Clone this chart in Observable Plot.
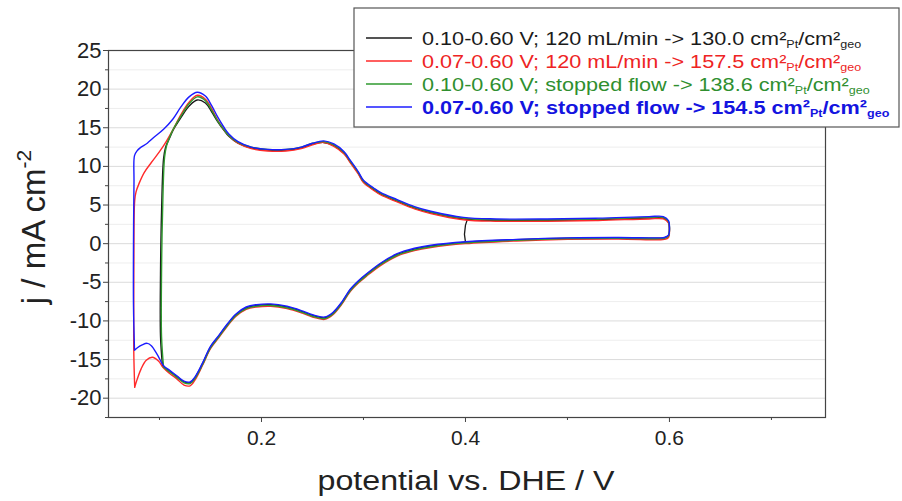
<!DOCTYPE html>
<html><head><meta charset="utf-8">
<script src="https://cdn.jsdelivr.net/npm/d3@7"></script>
<script src="https://cdn.jsdelivr.net/npm/@observablehq/plot@0.6"></script>
<style>body{margin:0;background:#fff;} #chart{width:902px;height:501px;}</style>
</head><body><div id="chart"></div>
<script>
// potential (V vs DHE) and current density (mA cm^-2), one closed loop per series
const blackV = [0.103,0.101,0.101,0.102,0.104,0.106,0.110,0.113,0.121,0.129,0.137,0.145,0.151,0.157,0.163,0.168,0.177,0.19,0.206,0.224,0.239,0.25,0.261,0.271,0.281,0.287,0.295,0.30,0.31,0.317,0.333,0.35,0.366,0.398,0.43,0.48,0.53,0.58,0.594,0.599,0.600,0.599,0.595,
  0.59,0.55,0.5,0.45,0.40,0.366,0.35,0.333,0.317,0.303,0.295,0.287,0.279,0.27,0.262,0.25,0.24,0.225,0.209,0.195,0.185,0.175,0.167,0.158,0.15,0.142,0.135,0.13,0.124,0.117,0.11,0.103];
const blackJ = [-15.9,-12,-4,4,11.0,12.5,13.7,14.6,16.3,17.8,18.6,18.2,17.1,15.8,14.7,13.9,13.0,12.4,12.1,12.1,12.4,12.9,13.1,12.7,11.7,10.6,9.1,8.0,7.0,6.4,5.5,4.6,4.0,3.2,3.0,3.0,3.1,3.3,3.3,2.8,1.8,1.0,0.75,
  0.7,0.75,0.7,0.5,0.2,-0.3,-0.7,-1.4,-2.6,-4.0,-4.9,-6.0,-7.6,-9.0,-9.6,-9.3,-8.8,-8.2,-7.9,-8.0,-8.3,-9.2,-10.4,-12.0,-13.4,-15.6,-17.3,-18.0,-17.9,-17.2,-16.5,-15.9];
const blackStepV = [0.400,0.399,0.400,0.402];
const blackStepJ = [0.2,1.2,2.4,3.2];

const redV = [0.0757,0.0748,0.0748,0.075,0.0757,0.077,0.080,0.085,0.092,0.100,0.107,0.113,0.121,0.129,0.137,0.145,0.151,0.157,0.163,0.168,0.177,0.19,0.206,0.224,0.239,0.25,0.261,0.271,0.281,0.287,0.295,0.30,0.31,0.317,0.333,0.35,0.366,0.398,0.43,0.48,0.53,0.58,0.594,0.599,0.600,0.599,0.595,
  0.59,0.55,0.5,0.45,0.40,0.366,0.35,0.333,0.317,0.303,0.295,0.287,0.279,0.27,0.262,0.25,0.24,0.225,0.209,0.195,0.185,0.175,0.167,0.158,0.15,0.142,0.135,0.13,0.124,0.117,0.11,0.104,0.099,0.093,0.087,0.082,0.078,0.0757];
const redJ = [-18.6,-14,-5,2,5.6,6.7,7.8,9.2,10.5,11.9,13.3,14.7,16.7,18.3,19.2,18.7,17.5,16.0,14.8,14.0,13.0,12.3,12.0,12.0,12.3,12.8,13.1,12.6,11.6,10.5,9.0,7.9,6.9,6.3,5.4,4.5,3.9,3.1,2.9,2.9,3.0,3.2,3.2,2.7,1.7,0.8,0.55,
  0.5,0.6,0.55,0.35,0.0,-0.5,-0.9,-1.6,-2.8,-4.2,-5.1,-6.2,-7.8,-9.2,-9.8,-9.5,-9.0,-8.4,-8.1,-8.2,-8.5,-9.4,-10.6,-12.2,-13.6,-15.8,-17.6,-18.4,-18.3,-17.5,-16.8,-16.1,-15.2,-14.7,-15.1,-16.2,-17.6,-18.6];

const greenV = [0.104,0.102,0.102,0.103,0.105,0.107,0.110,0.113,0.121,0.129,0.137,0.145,0.151,0.157,0.163,0.168,0.177,0.19,0.206,0.224,0.239,0.25,0.261,0.271,0.281,0.287,0.295,0.30,0.31,0.317,0.333,0.35,0.366,0.398,0.43,0.48,0.53,0.58,0.594,0.599,0.600,0.599,0.595,
  0.59,0.55,0.5,0.45,0.40,0.366,0.35,0.333,0.317,0.303,0.295,0.287,0.279,0.27,0.262,0.25,0.24,0.225,0.209,0.195,0.185,0.175,0.167,0.158,0.15,0.142,0.135,0.13,0.124,0.117,0.11,0.104];
const greenJ = [-16.0,-12,-4,4,11.2,12.7,13.8,14.7,16.5,18.1,19.0,18.5,17.3,15.9,14.8,14.0,13.1,12.5,12.2,12.2,12.5,13.0,13.2,12.8,11.8,10.7,9.2,8.1,7.1,6.5,5.6,4.7,4.1,3.3,3.1,3.1,3.2,3.4,3.4,2.9,1.9,1.0,0.7,
  0.65,0.7,0.65,0.45,0.1,-0.4,-0.8,-1.5,-2.7,-4.1,-5.0,-6.1,-7.7,-9.1,-9.7,-9.4,-8.9,-8.3,-8.0,-8.1,-8.4,-9.3,-10.5,-12.1,-13.5,-15.7,-17.4,-18.1,-18.0,-17.3,-16.6,-16.0];

const blueV = [0.0755,0.0745,0.0745,0.075,0.0755,0.078,0.081,0.088,0.094,0.104,0.113,0.121,0.129,0.137,0.145,0.151,0.157,0.163,0.168,0.177,0.19,0.206,0.224,0.239,0.25,0.261,0.271,0.281,0.287,0.295,0.30,0.31,0.317,0.333,0.35,0.366,0.398,0.43,0.48,0.53,0.58,0.594,0.599,0.600,0.599,0.595,
  0.59,0.55,0.5,0.45,0.40,0.366,0.35,0.333,0.317,0.303,0.295,0.287,0.279,0.27,0.262,0.25,0.24,0.225,0.209,0.195,0.185,0.175,0.167,0.158,0.15,0.142,0.135,0.13,0.124,0.117,0.11,0.104,0.098,0.092,0.088,0.083,0.078,0.0755];
const blueJ = [-13.8,-8,0,8,11.4,12.0,12.4,13.0,13.7,14.8,16.1,17.7,19.0,19.6,19.1,17.9,16.4,15.1,14.2,13.2,12.5,12.2,12.2,12.5,13.0,13.3,12.9,11.9,10.8,9.3,8.2,7.2,6.6,5.7,4.8,4.2,3.4,3.2,3.2,3.3,3.5,3.5,3.0,2.0,1.1,0.8,
  0.75,0.8,0.75,0.55,0.25,-0.2,-0.6,-1.3,-2.5,-3.9,-4.8,-5.9,-7.5,-8.9,-9.5,-9.2,-8.7,-8.1,-7.8,-7.9,-8.2,-9.1,-10.3,-11.9,-13.3,-15.5,-17.2,-17.9,-17.8,-17.1,-16.4,-15.8,-14.4,-13.2,-12.9,-13.1,-13.5,-13.8];

const seriesColors = ["#1b1b1b", "#ff2a2a", "#2f9a2f", "#1c1cff"];
const legendMain = ["0.10-0.60 V; 120 mL/min -> 130.0 cm²", "0.07-0.60 V; 120 mL/min -> 157.5 cm²", "0.10-0.60 V; stopped flow -> 138.6 cm²", "0.07-0.60 V; stopped flow -> 154.5 cm²"];
const legendTextColors = ["#1b1b1b", "#ee2424", "#2f8f2f", "#1414e0"];
const yTicks = [-20, -15, -10, -5, 0, 5, 10, 15, 20, 25];
const yMinorTicks = [-22.5, -17.5, -12.5, -7.5, -2.5, 2.5, 7.5, 12.5, 17.5, 22.5];
const xTicks = [0.2, 0.4, 0.6];
const xMinorTicks = [0.1, 0.3, 0.5, 0.7];

const toRows = (V, J) => V.map((v, i) => ({v, j: J[i]}));
const seriesRows = [toRows(blackV, blackJ), toRows(redV, redJ), toRows(greenV, greenJ), toRows(blueV, blueJ)];
const stepRows = toRows(blackStepV, blackStepJ);

const font = "'Liberation Sans', Arial, sans-serif";
const chart = Plot.plot({
  width: 902, height: 501,
  marginLeft: 108, marginRight: 77, marginTop: 50, marginBottom: 84,
  style: {fontFamily: font, background: "#fff", color: "#222"},
  x: {domain: [0.05, 0.753]},
  y: {domain: [-22.5, 25]},
  marks: [
    Plot.gridY(yMinorTicks, {stroke: "#e8e8e8", strokeOpacity: 1, strokeWidth: 0.8}),
    Plot.gridY(yTicks, {stroke: "#d2d2d2", strokeOpacity: 1, strokeWidth: 0.8}),
    Plot.axisY({ticks: yTicks, tickFormat: d => String(d), tickSize: 5, tickPadding: 2, fontSize: 22, label: null, stroke: "#444", ariaLabel: "ylab"}),
    Plot.axisY({ticks: yMinorTicks, tickSize: 3, text: null, label: null, stroke: "#444"}),
    Plot.axisX({ticks: xTicks, tickFormat: d => d.toFixed(1), tickSize: 5, tickPadding: 8, fontSize: 21, label: null, stroke: "#444", ariaLabel: "xlab"}),
    Plot.axisX({ticks: xMinorTicks, tickSize: 3, text: null, label: null, stroke: "#444"}),
    Plot.line(stepRows, {x: "v", y: "j", stroke: seriesColors[0], strokeWidth: 1.3}),
    ...seriesRows.map((rows, k) => Plot.line(rows, {x: "v", y: "j", stroke: seriesColors[k], strokeWidth: 1.4, curve: "catmull-rom"})),
    Plot.frame({stroke: "#444", strokeWidth: 1.2})
  ]
});
document.getElementById("chart").appendChild(chart);

const svg = d3.select(chart);
// widen upright tick labels horizontally about their anchor (vertical offsets untouched)
function stretch(sel, s) {
  sel.each(function() {
    const t = d3.select(this);
    const xa = parseFloat(t.attr("x"));
    const tr = t.attr("transform") || "";
    const pre = isFinite(xa) ? ` translate(${xa},0)` : "";
    if (isFinite(xa)) t.attr("x", null);
    t.attr("transform", `${tr}${pre} scale(${s},1)`);
  });
}
stretch(svg.selectAll('g[aria-label="ylab"] text'), 1.35);
stretch(svg.selectAll('g[aria-label="xlab"] text'), 1.1);

// axis titles
const yl = svg.append("text").attr("transform", "translate(45,227) rotate(-90)")
  .attr("text-anchor", "middle").attr("font-size", 33).attr("fill", "#222").attr("font-family", font);
yl.append("tspan").text("j / mA cm");
yl.append("tspan").attr("dy", -14).attr("font-size", 21).text("-2");
svg.append("text").attr("transform", "translate(466,490) scale(1.15,1)").attr("text-anchor", "middle")
  .attr("font-size", 28).attr("fill", "#222").attr("font-family", font).text("potential vs. DHE / V");

// legend
const lg = svg.append("g").attr("font-family", font);
lg.append("rect").attr("x", 354).attr("y", 8).attr("width", 545).attr("height", 119)
  .attr("fill", "#fff").attr("stroke", "#555").attr("stroke-width", 1.2);
legendMain.forEach((t, k) => {
  const y = 45 + k * 23;
  lg.append("line").attr("x1", 366).attr("x2", 412).attr("y1", y - 7).attr("y2", y - 7)
    .attr("stroke", seriesColors[k]).attr("stroke-width", 1.3);
  const tx = lg.append("text").attr("text-anchor", "start")
    .attr("transform", `translate(422,${y}) scale(1.14,1)`).attr("font-size", 19)
    .attr("fill", legendTextColors[k]).attr("font-weight", k === 3 ? "bold" : null);
  tx.append("tspan").text(t);
  tx.append("tspan").attr("dy", 3).attr("font-size", 11).text("Pt");
  tx.append("tspan").attr("dy", -3).text("/cm²");
  tx.append("tspan").attr("dy", 3).attr("font-size", 11).text("geo");
});
</script>
</body></html>
